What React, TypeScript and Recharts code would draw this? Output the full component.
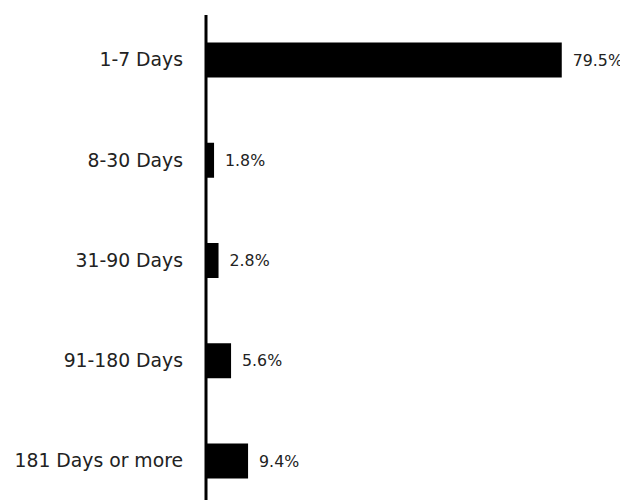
import React from 'react';
import { BarChart, Bar, XAxis, YAxis, LabelList } from 'recharts';

const categories = ['1-7 Days', '8-30 Days', '31-90 Days', '91-180 Days', '181 Days or more'];
const shares = [79.5, 1.8, 2.8, 5.6, 9.4];

const chartData = categories.map((name, i) => ({ name, value: shares[i] }));

const FONT = '"DejaVu Sans", "Noto Sans", sans-serif';

const App: React.FC = () => {
  return (
    <div style={{ width: 620, height: 492, fontFamily: FONT }}>
      <BarChart
        width={620}
        height={492}
        data={chartData}
        layout="vertical"
        margin={{ top: 7, right: 64, bottom: 0, left: 0 }}
      >
        <XAxis type="number" domain={[0, 80]} hide />
        <YAxis
          type="category"
          dataKey="name"
          width={198}
          axisLine={{ stroke: '#000', strokeWidth: 3 }}
          tickLine={false}
          tickSize={0}
          tickMargin={23}
          padding={{ top: -5.5, bottom: -10.75 }}
          tick={{ fill: '#222', fontSize: 18.8, fontFamily: FONT }}
          interval={0}
        />
        <Bar dataKey="value" fill="#000" barSize={35} isAnimationActive={false}>
          <LabelList
            dataKey="value"
            position="right"
            offset={11}
            formatter={(v: number) => `${v.toFixed(1)}%`}
            style={{ fill: '#222', fontSize: 15.8, fontFamily: FONT }}
          />
        </Bar>
      </BarChart>
    </div>
  );
};

export default App;
